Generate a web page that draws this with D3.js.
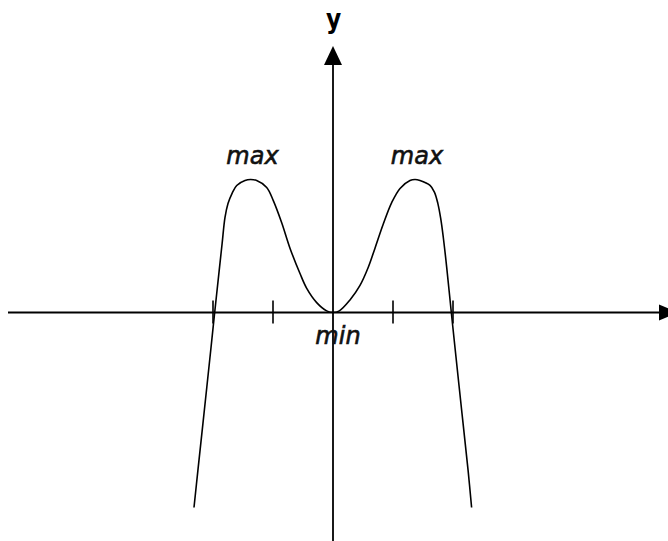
<!DOCTYPE html>
<html>
<head>
<meta charset="utf-8">
<script src="https://cdn.jsdelivr.net/npm/d3@7"></script>
<style>
  body { margin: 0; background: #fff; }
  svg { display: block; }
</style>
</head>
<body>
<div id="chart"></div>
<script>
// points (x in tick units, y so that the humps are ~4)
var curveX = [-2.317, -2.252, -2.15, -2.033, -1.972, -1.897, -1.848, -1.80, -1.75, -1.68, -1.605, -1.467, -1.375,
              -1.272, -1.105, -0.995, -0.855, -0.717, -0.55, -0.438, -0.272, -0.105, 0,
              0.105, 0.283, 0.45, 0.588, 0.70, 0.838, 0.978, 1.117, 1.283, 1.367,
              1.45, 1.617, 1.69, 1.748, 1.795, 1.838, 1.895, 1.972, 2.033, 2.15, 2.252, 2.31];
var curveY = [-5.91, -4.79, -3.06, -1.06, 0, 1.27, 2.09, 2.88, 3.30, 3.62, 3.85, 4.0, 4.03,
              4.0, 3.79, 3.39, 2.72, 1.95, 1.18, 0.73, 0.30, 0.05, 0,
              0.05, 0.38, 0.82, 1.37, 1.95, 2.68, 3.33, 3.76, 4.0, 4.03,
              4.0, 3.85, 3.65, 3.30, 2.85, 2.28, 1.37, 0, -1.06, -3.06, -4.79, -5.91];
var tickValues = [-2, -1, 1, 2];
var labelText = ["max", "max", "min"];
var labelX = [-1.375, 1.367, 0];
var labelY = [4.03, 4.03, 0];
var axisTitle = "y";

var width = 668, height = 541;

var x = d3.scaleLinear().domain([-2, 2]).range([213, 453]);
var y = d3.scaleLinear().domain([0, 4]).range([312.5, 180.5]);

var svg = d3.select("#chart").append("svg")
  .attr("width", width)
  .attr("height", height);

var x0 = x(0), y0 = y(0);

// x axis
svg.append("line")
  .attr("x1", 8).attr("x2", 662)
  .attr("y1", y0).attr("y2", y0)
  .attr("stroke", "#000")
  .attr("stroke-width", 1.8);
svg.append("path")
  .attr("d", "M659," + (y0 - 8) + "L678," + y0 + "L659," + (y0 + 8) + "Z")
  .attr("fill", "#000");

// y axis
svg.append("line")
  .attr("x1", x0).attr("x2", x0)
  .attr("y1", 62).attr("y2", height)
  .attr("stroke", "#000")
  .attr("stroke-width", 1.8);
svg.append("path")
  .attr("d", "M" + (x0 - 9) + ",65L" + x0 + ",46L" + (x0 + 9) + ",65Z")
  .attr("fill", "#000");

svg.append("text")
  .attr("x", x0 + 0.5)
  .attr("y", 28)
  .attr("text-anchor", "middle")
  .attr("font-family", "'Liberation Sans Narrow', 'DejaVu Sans Condensed', sans-serif")
  .attr("font-weight", "bold")
  .attr("font-size", "26px")
  .text(axisTitle);

// ticks
svg.selectAll(".tick")
  .data(tickValues)
  .enter()
  .append("line")
  .attr("class", "tick")
  .attr("x1", function(d){ return x(d); })
  .attr("x2", function(d){ return x(d); })
  .attr("y1", y0 - 12)
  .attr("y2", y0 + 11)
  .attr("stroke", "#000")
  .attr("stroke-width", 1.6);

// the curve
var pts = curveX.map(function(d, i){ return [d, curveY[i]]; });
var line = d3.line()
  .x(function(d){ return x(d[0]); })
  .y(function(d){ return y(d[1]); })
  .curve(d3.curveCatmullRom.alpha(0.5));

svg.append("path")
  .datum(pts)
  .attr("d", line)
  .attr("fill", "none")
  .attr("stroke", "#000")
  .attr("stroke-width", 1.6);

// max / min labels
svg.selectAll(".lbl")
  .data(labelText)
  .enter()
  .append("text")
  .attr("class", "lbl")
  .attr("x", function(d, i){ return x(labelX[i]) + (d == "min" ? 5 : 2); })
  .attr("y", function(d, i){ return y(labelY[i]) + (d == "min" ? 31 : -16); })
  .attr("text-anchor", "middle")
  .attr("font-family", "'DejaVu Sans', Verdana, sans-serif")
  .attr("font-style", "italic")
  .attr("font-size", "24px")
  .attr("fill", "#111")
  .attr("stroke", "#111")
  .attr("stroke-width", 0.6)
  .text(function(d){ return d; });
</script>
</body>
</html>
